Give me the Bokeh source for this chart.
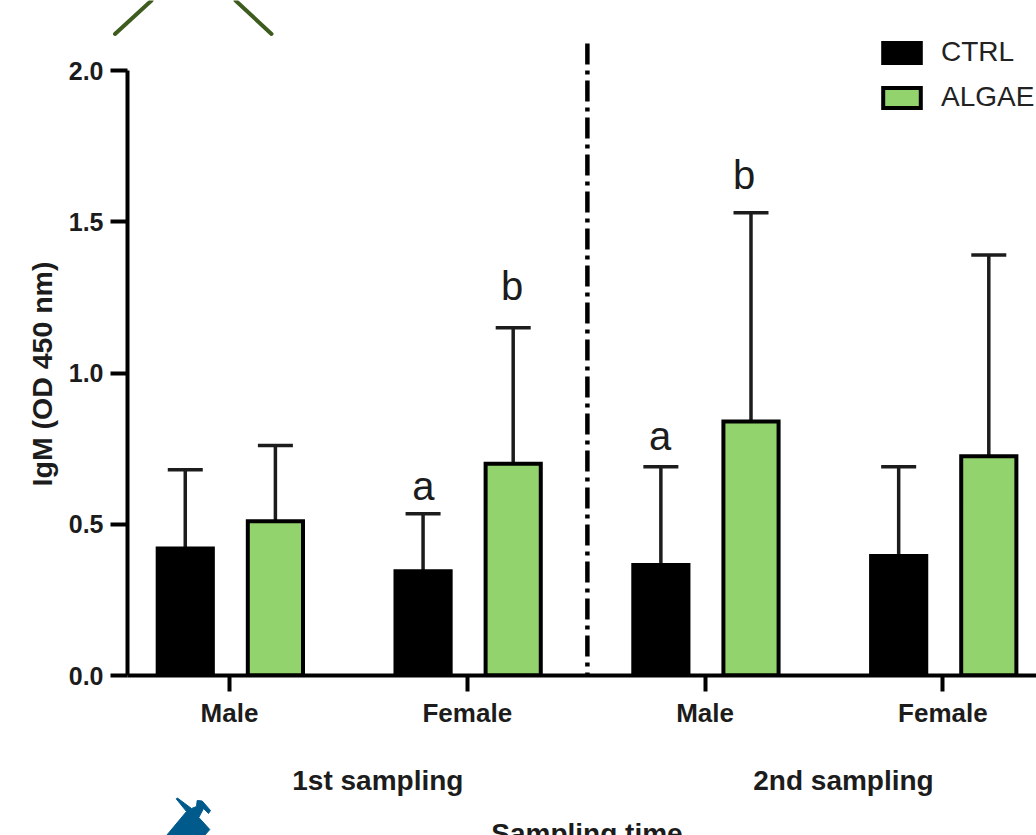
import math
from bokeh.plotting import figure
from bokeh.layouts import column
from bokeh.models import (ColumnDataSource, FixedTicker, LinearAxis, Whisker, TeeHead, Legend, LegendItem, Range1d)
from bokeh.core.properties import value
from bokeh.embed import file_html
from bokeh.resources import INLINE

FONT = "Liberation Sans"
INK = "#1c1c1c"

categories = ["Male", "Female", "Male", "Female"]
groups = ["1st sampling", "2nd sampling"]
ctrl_mean = [0.42, 0.345, 0.365, 0.395]
ctrl_err = [0.68, 0.535, 0.69, 0.69]
algae_mean = [0.51, 0.70, 0.84, 0.725]
algae_err = [0.76, 1.15, 1.53, 1.39]
letters = ["a", "b", "a", "b"]
letter_offset = [-0.185, 0.189, -0.189, 0.164]
letter_cat = [1, 1, 2, 2]
letter_y = [0.626, 1.286, 0.793, 1.653]
y_ticks = [0.0, 0.5, 1.0, 1.5, 2.0]

W, H = 1036, 835
L, FW, FH = 127, 909, 675
XU = 237.8
x0 = (127 - 229) / XU
p = figure(width=W, height=H, output_backend="svg", toolbar_location=None,
           x_range=Range1d(x0, x0 + FW / XU), y_range=Range1d(0, FH / 302.5),
           frame_width=FW, frame_height=FH, min_border_left=L, min_border_top=0, min_border_right=0,
           min_border_bottom=H - FH, outline_line_color=None, x_axis_type=None, y_axis_type=None,
           background_fill_color="white", border_fill_color="white", frame_align=False)
p.xgrid.visible = False
p.ygrid.visible = False

idx = list(range(len(categories)))
CO, AO, BW = 0.186, 0.193, 0.232
cx = [i - CO for i in idx]
ax = [i + AO for i in idx]
sc = ColumnDataSource(dict(x=cx, top=ctrl_mean, err=ctrl_err))
sa = ColumnDataSource(dict(x=ax, top=algae_mean, err=algae_err))

for s in (sc, sa):
    p.add_layout(Whisker(source=s, base="x", lower="top", upper="err", dimension="height",
                         line_color=INK, line_width=3.5, level="underlay",
                         upper_head=TeeHead(size=35, line_color=INK, line_width=3.5), lower_head=None))
rc = p.vbar(x="x", top="top", width=BW, source=sc, fill_color="black", line_color="black", line_width=4, line_join="miter")
ra = p.vbar(x="x", top="top", width=BW, source=sa, fill_color="#92d36e", line_color="black", line_width=4, line_join="miter")

p.text(x=[letter_cat[i] + letter_offset[i] for i in range(4)], y=letter_y, text=letters,
       text_font=value(FONT), text_font_size="40px", text_color=INK, text_align="center", text_baseline="alphabetic")

# separator between samplings
p.segment(x0=[1.505], x1=[1.505], y0=[2.089], y1=[0], line_color="black", line_width=4.5, line_dash="21 6 4 6")

yax = LinearAxis(ticker=FixedTicker(ticks=y_ticks), bounds=(0, 2))
p.add_layout(yax, "left")
yax.major_label_overrides = {t: f"{t:.1f}" for t in y_ticks}
xax = LinearAxis(ticker=FixedTicker(ticks=idx), major_label_overrides=dict(zip(idx, categories)))
p.add_layout(xax, "below")
g_ticks = [0.624, 2.582]
gax = LinearAxis(ticker=FixedTicker(ticks=g_ticks), major_label_overrides=dict(zip(g_ticks, groups)))
p.add_layout(gax, "below")

for a in (xax, yax):
    a.axis_line_color = "black"; a.axis_line_width = 4
    a.major_tick_line_color = "black"; a.major_tick_line_width = 4
    a.major_tick_in = 0; a.minor_tick_out = 0; a.minor_tick_in = 0
    a.major_label_text_font = FONT; a.major_label_text_font_style = "bold"
    a.major_label_text_color = INK
xax.major_tick_out = 16; xax.major_label_text_font_size = "26px"; xax.major_label_standoff = 6
yax.major_tick_out = 17; yax.major_label_text_font_size = "25px"; yax.major_label_standoff = 7

gax.axis_line_color = None; gax.major_tick_line_color = None; gax.minor_tick_line_color = None
gax.major_tick_in = 0; gax.major_tick_out = 0; gax.minor_tick_out = 0; gax.minor_tick_in = 0
gax.major_label_text_font = FONT; gax.major_label_text_font_style = "bold"; gax.major_label_text_font_size = "28px"
gax.major_label_text_color = INK; gax.major_label_standoff = 34

leg = Legend(items=[LegendItem(label="CTRL", renderers=[rc]), LegendItem(label="ALGAE", renderers=[ra])],
             location=(751, 562), orientation="vertical", background_fill_alpha=0, border_line_color=None,
             glyph_width=47, glyph_height=25, spacing=13, label_standoff=16, margin=0, padding=0,
             label_text_font=FONT, label_text_font_size="28px", label_text_color="#222222")
p.add_layout(leg)

# transparent full-page overlay for the marks and titles that lie outside the plot frame
o = figure(width=W, height=H, output_backend="svg", toolbar_location=None, x_range=Range1d(0, W), y_range=Range1d(H, 0),
           x_axis_type=None, y_axis_type=None, min_border=0, outline_line_color=None,
           background_fill_color=None, border_fill_color=None, margin=(-H, 0, 0, 0), frame_align=False)
o.xgrid.visible = False
o.ygrid.visible = False
GREEN, BLUE = "#3d5c1e", "#005a8c"
o.line([114.5, 151], [33.5, 0], line_color=GREEN, line_width=4, line_cap="round")
o.line([271, 235], [33.5, 0], line_color=GREEN, line_width=4, line_cap="round")
o.patch([175.7, 177, 191, 196, 196.7, 201.7, 210, 208, 203, 198.3, 209.3, 204, 166, 186],
        [798.3, 797.6, 808, 806, 800, 800.5, 810, 813, 808, 817, 829, 835, 835, 811],
        fill_color=BLUE, line_color=BLUE, line_width=1)
o.text([41], [373.5], text=["IgM (OD 450 nm)"], angle=math.pi / 2, text_align="center", text_baseline="middle",
       text_font=value(FONT), text_font_style="bold", text_font_size="28.5px", text_color=INK)
o.text([586.5], [817], text=["Sampling time"], text_align="center", text_baseline="top",
       text_font=value(FONT), text_font_style="bold", text_font_size="28px", text_color=INK)

layout = column(p, o, spacing=0)
open("out.html", "w").write(file_html(layout, INLINE))
